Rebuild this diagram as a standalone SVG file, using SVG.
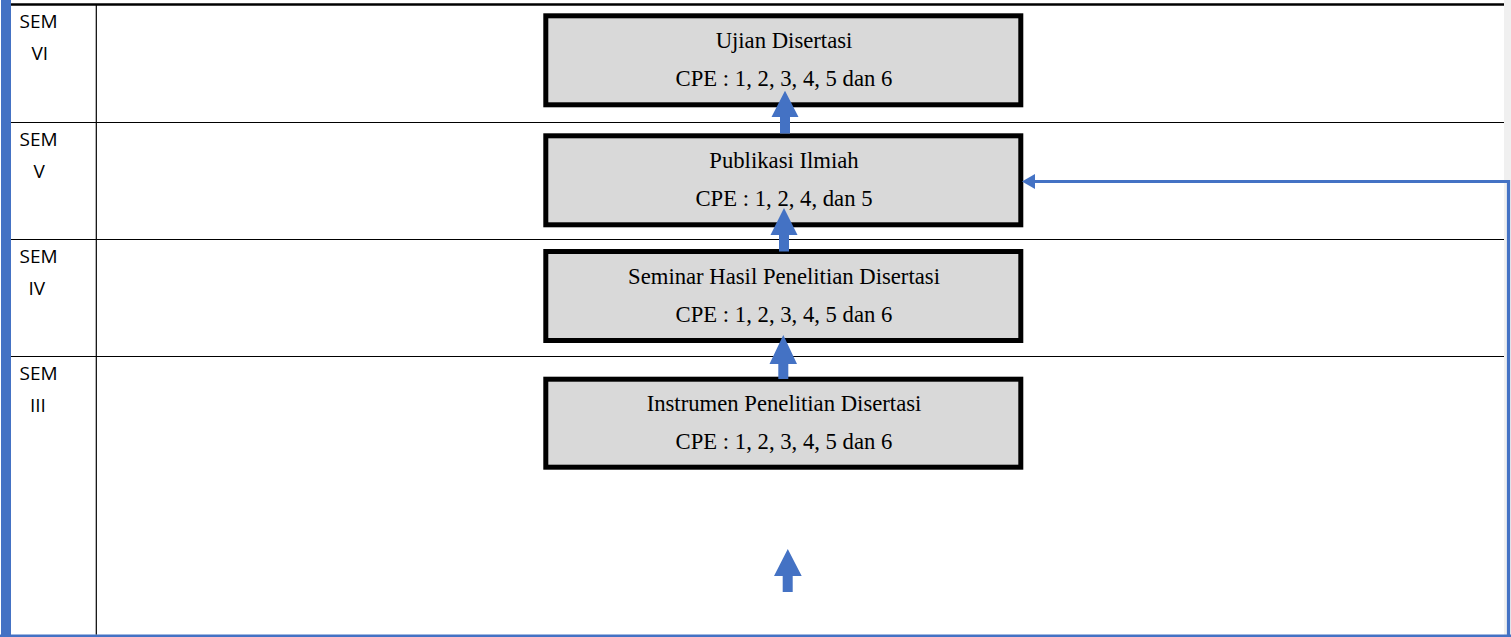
<svg xmlns="http://www.w3.org/2000/svg" width="1511" height="637" viewBox="0 0 1511 637">
<defs>
<style>
.grid{stroke:#000;stroke-width:1.2;fill:none}
.lbl{font-family:"Open Sans","Liberation Sans",sans-serif;font-size:19px;fill:#000}
.box{fill:#D9D9D9;stroke:#000;stroke-width:5}
.bt{font-family:"Liberation Serif","Times New Roman",serif;font-size:22.7px;fill:#000;text-anchor:middle}
.blk{fill:#4472C4}
.conn{stroke:#4472C4;stroke-width:3.2;fill:none}
</style>
</defs>
<rect x="0" y="0" width="1511" height="637" fill="#fff"/>
<g id="frame">
<rect x="1504" y="0" width="7" height="637" fill="#F0F0F0"/>
<rect x="1" y="0" width="10" height="637" class="blk"/>
<rect x="0" y="634.5" width="1511" height="2.5" class="blk"/>
<line x1="11" y1="4.5" x2="1504" y2="4.5" stroke="#000" stroke-width="2.6"/>
<line x1="96.3" y1="5" x2="96.3" y2="634.5" class="grid"/>
<line x1="11" y1="122.5" x2="1504" y2="122.5" class="grid"/>
<line x1="11" y1="239.5" x2="1504" y2="239.5" class="grid"/>
<line x1="11" y1="356.5" x2="1504" y2="356.5" class="grid"/>
</g>
<g id="labels">
<text class="lbl" x="19.5" y="28">SEM</text><text class="lbl" x="31.5" y="60">VI</text>
<text class="lbl" x="19.5" y="145.5">SEM</text><text class="lbl" x="33.5" y="177.5">V</text>
<text class="lbl" x="19.5" y="262.5">SEM</text><text class="lbl" x="28.5" y="295">IV</text>
<text class="lbl" x="19.5" y="379.5">SEM</text><text class="lbl" x="30" y="411.7">III</text>
</g>
<g id="node-ujian">
<rect class="box" x="545.8" y="15.8" width="475" height="89"/>
<text class="bt" x="784" y="48">Ujian Disertasi</text>
<text class="bt" x="784" y="86">CPE : 1, 2, 3, 4, 5 dan 6</text>
</g>
<g id="node-publikasi">
<rect class="box" x="545.8" y="135.8" width="475" height="89"/>
<text class="bt" x="784" y="168">Publikasi Ilmiah</text>
<text class="bt" x="784" y="206">CPE : 1, 2, 4, dan 5</text>
</g>
<g id="node-seminar">
<rect class="box" x="545.8" y="251.5" width="475" height="89"/>
<text class="bt" x="784" y="284">Seminar Hasil Penelitian Disertasi</text>
<text class="bt" x="784" y="322">CPE : 1, 2, 3, 4, 5 dan 6</text>
</g>
<g id="node-instrumen">
<rect class="box" x="545.8" y="379.2" width="475" height="88"/>
<text class="bt" x="784" y="411">Instrumen Penelitian Disertasi</text>
<text class="bt" x="784" y="449">CPE : 1, 2, 3, 4, 5 dan 6</text>
</g>
<g id="connectors">
<polygon class="blk" points="785,90.7 798.5,117 790,117 790,133.5 780,133.5 780,117 771.5,117"/>
<polygon class="blk" points="784,208 797.5,235 789,235 789,251.5 779,251.5 779,235 770.5,235"/>
<polygon class="blk" points="783.3,335 797,364 788.3,364 788.3,379 778.3,379 778.3,364 769.5,364"/>
<polygon class="blk" points="787.8,549 801.7,576 792.7,576 792.7,592 782.7,592 782.7,576 774,576"/>
<polyline class="conn" points="1508.5,637 1508.5,181.5 1034,181.5"/>
<polygon class="blk" points="1022,181.5 1035,174 1035,189"/>
</g>
</svg>
